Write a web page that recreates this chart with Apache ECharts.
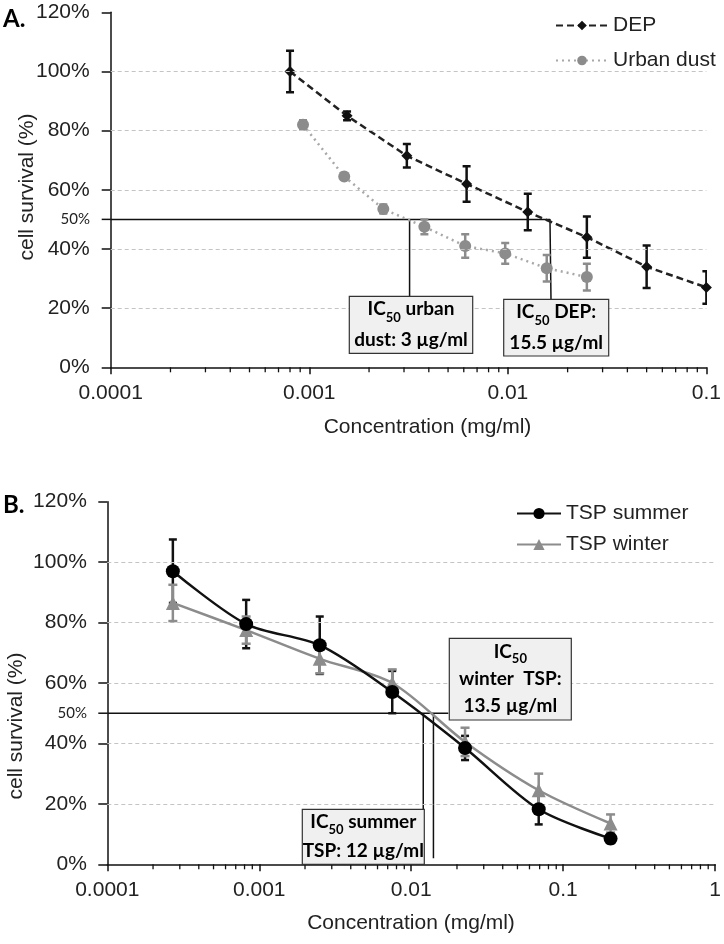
<!DOCTYPE html>
<html>
<head>
<meta charset="utf-8">
<script src="https://cdn.jsdelivr.net/npm/echarts@6/dist/echarts.min.js"></script>
<style>html,body{margin:0;padding:0;background:#fff}#c{width:724px;height:944px}</style>
</head>
<body>
<div id="c"></div>
<script>
// ---------- data ----------
const yTicks = [0, 20, 40, 60, 80, 100, 120];
const gridLinesY = [20, 40, 60, 80, 100];

// Panel A
const depX = [0.0008, 0.00155, 0.0031, 0.0062, 0.0126, 0.025, 0.05, 0.1];
const depY = [100, 85, 71.5, 62, 52.5, 44, 34, 27];
const depErr = [7, 1.5, 4, 6, 6.2, 7, 7.2, 5.5];
const dustX = [0.00093, 0.0015, 0.00236, 0.0038, 0.0061, 0.0097, 0.0157, 0.025];
const dustY = [82, 64.5, 53.5, 47.5, 41, 38.5, 33.5, 30.5];
const dustErr = [1.5, 1, 1.5, 2.5, 4, 3.5, 4.5, 4.5];
const ic50A = { urban: 0.0032, dep: 0.0163 };

// Panel B
const tspX = [0.00027, 0.00082, 0.0025, 0.0075, 0.0226, 0.069, 0.205];
const summerY = [97, 79.5, 72.5, 57, 38.5, 18.2, 8.5];
const summerErr = [10.5, 8, 9.5, 7, 4, 5, 1.5];
const winterY = [86.5, 77.5, 68, 60, 40.5, 24.5, 13.5];
const winterErr = [6, 4.5, 4.8, 4.5, 4.7, 5.5, 3];
const ic50B = { summer: 0.012, winter: 0.014 };

const seriesNames = { dep: 'DEP', dust: 'Urban dust', summer: 'TSP summer', winter: 'TSP winter' };

// ---------- helpers ----------
const pairs = (xs, ys) => xs.map((x, i) => [x, ys[i]]);
const errData = (xs, ys, es) => xs.map((x, i) => [x, ys[i] - es[i], ys[i] + es[i]]);
function errRender(color, hw, lw) {
  return function (params, api) {
    const x = api.value(0), lo = api.value(1), hi = api.value(2);
    const a = api.coord([x, lo]), b = api.coord([x, hi]);
    const st = { stroke: color, lineWidth: lw };
    return {
      type: 'group',
      children: [
        { type: 'line', shape: { x1: a[0], y1: a[1], x2: b[0], y2: b[1] }, style: st },
        { type: 'line', shape: { x1: a[0] - hw, y1: a[1], x2: a[0] + hw, y2: a[1] }, style: st },
        { type: 'line', shape: { x1: b[0] - hw, y1: b[1], x2: b[0] + hw, y2: b[1] }, style: st }
      ]
    };
  };
}
const fmtX = v => String(Number(Number(v).toPrecision(1)));
const FONT = '"Liberation Sans", Arial, sans-serif';
const TXT = '#222';

function xAxisCfg(gi, max) {
  return {
    type: 'log', logBase: 10, gridIndex: gi, min: 0.0001, max: max,
    axisLine: { lineStyle: { color: '#111', width: 1.5 } },
    axisTick: { length: 7, lineStyle: { color: '#111', width: 1.5 } },
    axisLabel: { fontSize: 21, fontFamily: FONT, color: TXT, margin: 15, formatter: fmtX },
    splitLine: { show: false }
  };
}
function yAxisCfg(gi, margin) {
  return {
    type: 'value', gridIndex: gi, min: 0, max: 120, interval: 20,
    axisLine: { show: true, lineStyle: { color: '#111', width: 1.5 } },
    axisTick: { show: true, length: 9, lineStyle: { color: '#111', width: 1.5 } },
    axisLabel: { fontSize: 21, fontFamily: FONT, color: TXT, margin: margin, formatter: '{value}%' },
    splitLine: { show: false }
  };
}
const gridMark = {
  silent: true, symbol: 'none', label: { show: false },
  lineStyle: { type: [4, 3], color: '#c4c4c4', width: 1 },
  data: gridLinesY.map(v => ({ yAxis: v }))
};

const option = {
  animation: false,
  backgroundColor: '#fff',
  textStyle: { fontFamily: FONT },
  grid: [
    { left: 110.7, top: 12.3, width: 598, height: 355 },
    { left: 107.3, top: 501.7, width: 609.7, height: 362.6 }
  ],
  xAxis: [xAxisCfg(0, 0.1), xAxisCfg(1, 1)],
  yAxis: [yAxisCfg(0, 21), yAxisCfg(1, 20.5)],
  legend: [
    {
      data: [seriesNames.dep, seriesNames.dust], orient: 'vertical', left: 550, top: 10,
      itemWidth: 52, itemHeight: 12, itemGap: 14,
      textStyle: { fontSize: 21, fontFamily: FONT, color: TXT }
    },
    {
      data: [seriesNames.summer, seriesNames.winter], orient: 'vertical', left: 511, top: 498,
      itemWidth: 44, itemHeight: 14, itemGap: 10,
      textStyle: { fontSize: 21, fontFamily: FONT, color: TXT }
    }
  ],
  series: [
    // gridlines A
    { type: 'line', xAxisIndex: 0, yAxisIndex: 0, data: [], markLine: gridMark, silent: true },
    // IC50 lines A
    { type: 'line', xAxisIndex: 0, yAxisIndex: 0, silent: true, symbol: 'none', z: 1,
      lineStyle: { color: '#111', width: 1.5 },
      data: [[0.0001, 50], [ic50A.dep, 50], [ic50A.dep * 1.012, 23]] },
    { type: 'line', xAxisIndex: 0, yAxisIndex: 0, silent: true, symbol: 'none', z: 1,
      lineStyle: { color: '#111', width: 1.5 },
      data: [[ic50A.urban, 50], [ic50A.urban, 24]] },
    // error bars A
    { type: 'custom', xAxisIndex: 0, yAxisIndex: 0, clip: true, z: 3, silent: true,
      renderItem: errRender('#8c8c8c', 4, 2.5), encode: { x: 0, y: [1, 2] },
      data: errData(dustX, dustY, dustErr) },
    { type: 'custom', xAxisIndex: 0, yAxisIndex: 0, clip: true, z: 4, silent: true,
      renderItem: errRender('#111', 4, 2.5), encode: { x: 0, y: [1, 2] },
      data: errData(depX, depY, depErr) },
    { name: seriesNames.dust, type: 'line', xAxisIndex: 0, yAxisIndex: 0, z: 3,
      symbol: 'circle', symbolSize: 12,
      itemStyle: { color: '#8c8c8c' },
      lineStyle: { color: '#a8a8a8', width: 2.5, type: [2, 4] },
      data: pairs(dustX, dustY) },
    { name: seriesNames.dep, type: 'line', xAxisIndex: 0, yAxisIndex: 0, z: 4,
      symbol: 'diamond', symbolSize: 11,
      itemStyle: { color: '#111' },
      lineStyle: { color: '#222', width: 2.5, type: [7, 4] },
      data: pairs(depX, depY) },

    // gridlines B
    { type: 'line', xAxisIndex: 1, yAxisIndex: 1, data: [], markLine: gridMark, silent: true },
    // IC50 lines B
    { type: 'line', xAxisIndex: 1, yAxisIndex: 1, silent: true, symbol: 'none', z: 1,
      lineStyle: { color: '#111', width: 1.5 },
      data: [[0.0001, 50], [0.01754, 50]] },
    { type: 'line', xAxisIndex: 1, yAxisIndex: 1, silent: true, symbol: 'none', z: 1,
      lineStyle: { color: '#111', width: 1.5 },
      data: [[ic50B.summer, 50], [ic50B.summer, 0]] },
    { type: 'line', xAxisIndex: 1, yAxisIndex: 1, silent: true, symbol: 'none', z: 1,
      lineStyle: { color: '#111', width: 1.5 },
      data: [[ic50B.winter, 50], [ic50B.winter, 2]] },
    // error bars B
    { type: 'custom', xAxisIndex: 1, yAxisIndex: 1, z: 4, silent: true,
      renderItem: errRender('#111', 4, 2.5), encode: { x: 0, y: [1, 2] },
      data: errData(tspX, summerY, summerErr) },
    { type: 'custom', xAxisIndex: 1, yAxisIndex: 1, z: 5, silent: true,
      renderItem: errRender('#8c8c8c', 4.5, 2.5), encode: { x: 0, y: [1, 2] },
      data: errData(tspX, winterY, winterErr) },
    { name: seriesNames.winter, type: 'line', xAxisIndex: 1, yAxisIndex: 1, z: 5,
      smooth: 0.3, symbol: 'triangle', symbolSize: 14,
      itemStyle: { color: '#8c8c8c' },
      lineStyle: { color: '#8c8c8c', width: 2.5 },
      data: pairs(tspX, winterY) },
    { name: seriesNames.summer, type: 'line', xAxisIndex: 1, yAxisIndex: 1, z: 6,
      smooth: 0.3, symbol: 'circle', symbolSize: 14,
      itemStyle: { color: '#000' },
      lineStyle: { color: '#111', width: 2.5 },
      data: pairs(tspX, summerY) }
  ]
};

const chart = echarts.init(document.getElementById('c'));
chart.setOption(option);

// ---------- annotations (graphic) ----------
const g = [];
function minorTicks(gi, fromExp, toExp) {
  for (let n = fromExp; n < toExp; n++) {
    for (let k = 2; k <= 9; k++) {
      const p = chart.convertToPixel({ gridIndex: gi }, [k * Math.pow(10, n), 0]);
      g.push({ type: 'line', silent: true, shape: { x1: p[0], y1: p[1], x2: p[0], y2: p[1] + 5 },
        style: { stroke: '#111', lineWidth: 1.3 } });
    }
  }
}
minorTicks(0, -4, -1);
minorTicks(1, -4, 0);

function fiftyMark(gi, labelRight) {
  const p = chart.convertToPixel({ gridIndex: gi }, [0.0001, 50]);
  g.push({ type: 'line', silent: true, shape: { x1: p[0] - 9, y1: p[1], x2: p[0], y2: p[1] },
    style: { stroke: '#111', lineWidth: 1.5 } });
  g.push({ type: 'text', silent: true, x: labelRight, y: p[1],
    style: { text: '50%', font: '15px Lato', fill: TXT, align: 'right', verticalAlign: 'middle' } });
}
fiftyMark(0, 90);
fiftyMark(1, 87);

function textEl(txt, x, y, font, rot) {
  g.push({ type: 'text', silent: true, x: x, y: y, rotation: rot || 0,
    style: { text: txt, font: font, fill: TXT, align: 'center', verticalAlign: 'middle' } });
}
textEl('cell survival (%)', 27.5, 187, '21px ' + FONT, Math.PI / 2);
textEl('cell survival (%)', 16, 726, '21px ' + FONT, Math.PI / 2);
textEl('Concentration (mg/ml)', 427.5, 427.3, '21px ' + FONT);
textEl('Concentration (mg/ml)', 411, 923.3, '21px ' + FONT);
g.push({ type: 'text', silent: true, x: 3, y: 19,
  style: { text: 'A.', font: 'bold 24px Lato', fill: '#000', align: 'left', verticalAlign: 'middle' } });
g.push({ type: 'text', silent: true, x: 3, y: 505,
  style: { text: 'B.', font: 'bold 24px Lato', fill: '#000', align: 'left', verticalAlign: 'middle' } });

const rich = {
  n: { fontSize: 19, fontWeight: 'bold', fontFamily: 'Lato', color: '#111', lineHeight: 30, verticalAlign: 'middle' },
  s: { fontSize: 13, fontWeight: 'bold', fontFamily: 'Lato', color: '#111', lineHeight: 16, verticalAlign: 'bottom' }
};
function box(x, y, w, h, text, lh) {
  const r = JSON.parse(JSON.stringify(rich));
  r.n.lineHeight = lh;
  g.push({ type: 'rect', silent: true, z: 10, shape: { x: x, y: y, width: w, height: h },
    style: { fill: '#f0f0f0', stroke: '#333', lineWidth: 1.2 } });
  g.push({ type: 'text', silent: true, z: 11, x: x + w / 2, y: y + h / 2,
    style: { text: text, rich: r, align: 'center', verticalAlign: 'middle' } });
}
box(349.3, 296.3, 123.4, 57, '{n|IC}{s|50}{n| urban}\n{n|dust: 3 µg/ml}', 31);
box(503.7, 299.3, 105, 56.7, '{n|IC}{s|50}{n| DEP:}\n{n|15.5 µg/ml}', 31);
box(449.3, 638.3, 122, 81.7, '{n|IC}{s|50}\n{n|winter  TSP:}\n{n|13.5 µg/ml}', 27);
box(302.3, 809.3, 122, 55, '{n|IC}{s|50}{n| summer}\n{n|TSP: 12 µg/ml}', 29);

chart.setOption({ graphic: g });
</script>
</body>
</html>
